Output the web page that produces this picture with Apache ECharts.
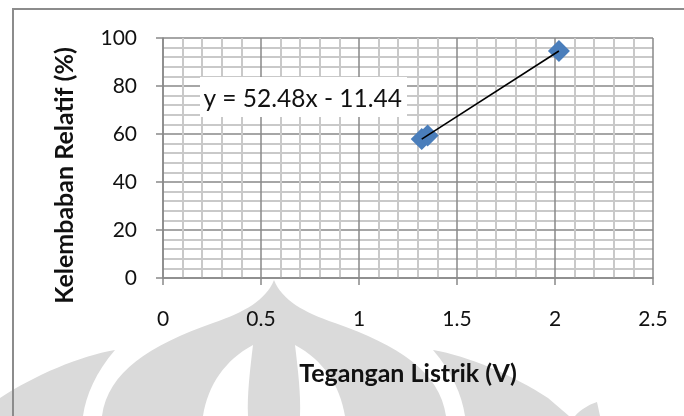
<!DOCTYPE html>
<html>
<head>
<meta charset="utf-8">
<script src="https://cdn.jsdelivr.net/npm/echarts@6/dist/echarts.min.js"></script>
<style>
  html, body { margin: 0; padding: 0; background: #ffffff; }
  #chart { width: 684px; height: 416px; }
</style>
</head>
<body>
<div id="chart"></div>
<script>
// Measured samples: sensor output voltage (V) and relative humidity (%)
const voltage = [1.32, 1.35, 2.02];
const humidity = [57.9, 59.4, 94.6];

// Linear trendline y = slope * x + intercept
const slope = 52.48;
const intercept = -11.44;

// Axis ranges and major steps
const xRange = [0, 2.5];
const xStep = 0.5;
const yRange = [0, 100];
const yStep = 20;

const xTitle = 'Tegangan Listrik (V)';
const yTitle = 'Kelembaban Relatif (%)';

const FONT = 'Lato, "Open Sans", sans-serif';
const GRID_DARK = '#898989';
const GRID_LIGHT = '#c9c9c9';
const WATERMARK = '#dadada';

const points = voltage.map((v, i) => [v, humidity[i]]);
const xMin = Math.min(...voltage);
const xMax = Math.max(...voltage);
const trend = [xMin, xMax].map(x => [x, slope * x + intercept]);
const equation = 'y = ' + slope.toFixed(2) + 'x ' + (intercept < 0 ? '- ' : '+ ') + Math.abs(intercept).toFixed(2);

// Faint emblem shapes in the lower part of the page
const emblemParts = [
  { d: 'M115 350 C80 356 35 375 0 398 L0 416 L83 416 C86 395 96 372 115 350 Z', fill: WATERMARK, z: -5 },
  { d: 'M102 416 C108 372 150 345 213 323 C245 312 266 300 274 280 C282 300 303 312 335 323 C398 345 440 372 446 416 Z', fill: WATERMARK, z: -5 },
  { d: 'M203 416 C208 385 225 360 253 345 C250 370 247 395 248 416 Z', fill: '#ffffff', z: -4 },
  { d: 'M345 416 C340 385 323 360 295 345 C298 370 301 395 300 416 Z', fill: '#ffffff', z: -4 },
  { d: 'M433 350 C468 356 513 375 548 398 L569 416 L465 416 C462 395 452 372 433 350 Z', fill: WATERMARK, z: -5 },
  { d: 'M575 416 C580 410 588 405 597 402 L600 416 Z', fill: WATERMARK, z: -5 }
];
const emblemGraphics = emblemParts.map((p, i) => {
  const name = 'emblemPart' + i;
  echarts.graphic.registerShape(name, echarts.graphic.extendPath(p.d, {}));
  return { type: name, z: p.z, shape: {}, style: { fill: p.fill } };
});

function axisCommon(range, step) {
  return {
    type: 'value',
    min: range[0],
    max: range[1],
    interval: step,
    axisLine: { show: true, lineStyle: { color: GRID_DARK, width: 1.5 } },
    axisTick: { show: true, length: 7, lineStyle: { color: GRID_DARK, width: 1.5 } },
    minorTick: { show: false, splitNumber: 5 },
    splitLine: { show: true, lineStyle: { color: GRID_DARK, width: 1.5 } },
    minorSplitLine: { show: true, lineStyle: { color: GRID_LIGHT, width: 2 } },
    axisLabel: { color: '#111', fontFamily: FONT, fontSize: 21 }
  };
}

const xAxis = axisCommon(xRange, xStep);
xAxis.axisLabel.margin = 31;
xAxis.name = xTitle;
xAxis.nameLocation = 'middle';
xAxis.nameGap = 83;
xAxis.nameTextStyle = { color: '#111', fontFamily: FONT, fontSize: 25, fontWeight: 'bold' };

const yAxis = axisCommon(yRange, yStep);
yAxis.axisLabel.margin = 26;

const chart = echarts.init(document.getElementById('chart'), null, { renderer: 'canvas' });

chart.setOption({
  animation: false,
  backgroundColor: '#ffffff',
  grid: { left: 163, top: 38, width: 490, height: 240, containLabel: false },
  xAxis: xAxis,
  yAxis: yAxis,
  graphic: emblemGraphics.concat([
    // chart frame
    { type: 'rect', z: 20, shape: { x: 13, y: 9, width: 700, height: 430 }, style: { fill: 'none', stroke: '#8c8c8c', lineWidth: 2 } },
    // vertical axis title
    {
      type: 'text', z: 20, x: 65, y: 175.5, rotation: Math.PI / 2,
      style: { text: yTitle, fill: '#111', font: 'bold 25px ' + FONT, align: 'center', verticalAlign: 'middle' }
    },
    // trendline equation box
    { type: 'rect', z: 20, shape: { x: 200, y: 77, width: 207, height: 40 }, style: { fill: '#ffffff' } },
    {
      type: 'text', z: 21, x: 302.7, y: 99,
      style: { text: equation, fill: '#111', font: '24.5px ' + FONT, align: 'center', verticalAlign: 'middle' }
    }
  ]),
  series: [
    {
      type: 'scatter',
      data: points,
      symbol: 'diamond',
      symbolSize: 22,
      itemStyle: { color: '#4a7ebb', opacity: 1 },
      z: 3
    },
    {
      type: 'line',
      data: trend,
      showSymbol: false,
      symbol: 'none',
      lineStyle: { color: '#000000', width: 1.6 },
      z: 4
    }
  ]
});
</script>
</body>
</html>
